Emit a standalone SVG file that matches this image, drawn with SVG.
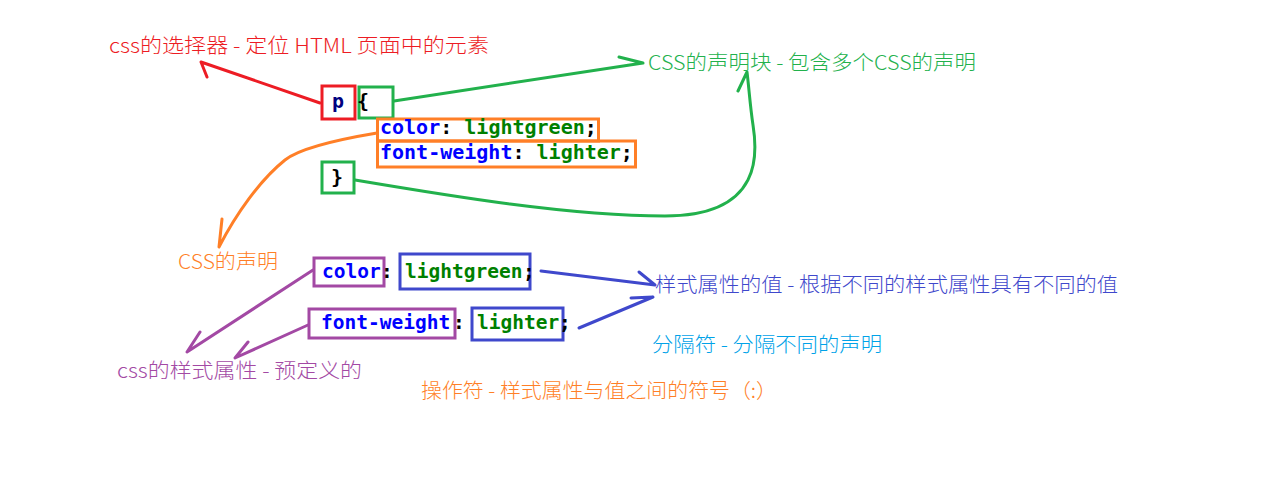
<svg xmlns="http://www.w3.org/2000/svg" width="1271" height="479" viewBox="0 0 1271 479">
<style>
.lbl{font-family:"Noto Sans CJK SC","Microsoft YaHei",sans-serif;font-size:20px;font-weight:300;}
.code{font-family:"DejaVu Sans Mono","Liberation Mono",monospace;font-size:19.5px;font-weight:bold;}
.top{font-size:20px;}
.box{fill:none;stroke-width:3;}
.ln{fill:none;stroke-width:3;stroke-linecap:round;stroke-linejoin:round;}
.prop{fill:#0000ff;}
.val{fill:#008000;}
.pun{fill:#000000;}
</style>
<rect width="1271" height="479" fill="#ffffff"/>

<g id="connectors">
  <g id="arrow-selector" stroke="#ed1c24"><path class="ln" d="M320,103 L201,62 L207,77"/></g>
  <g id="arrow-block-open" stroke="#22b14c"><path class="ln" d="M394,101 L643,63 L619,57"/></g>
  <g id="arrow-block-close" stroke="#22b14c"><path class="ln" d="M355,180 C450,196 570,216 665,216 C765,216 757,150 753,125 C750,105 749,88 747,72 L738,91"/></g>
  <g id="arrow-decl" stroke="#ff7f27"><path class="ln" d="M377,133 C335,140 300,148 285,160 C260,180 236,214 219,247 L222,219"/></g>
  <g id="arrow-prop1" stroke="#a349a4"><path class="ln" d="M313,270 L187,352 L200,332"/></g>
  <g id="arrow-prop2" stroke="#a349a4"><path class="ln" d="M308,325 L235,358 L248,342"/></g>
  <g id="arrow-val1" stroke="#3f48cc"><path class="ln" d="M541,271 L655,285 L639,272"/></g>
  <g id="arrow-val2" stroke="#3f48cc"><path class="ln" d="M579,328 L653,297 L631,298"/></g>
</g>

<g id="selector-p">
  <rect class="box" stroke="#ed1c24" x="322" y="86" width="33" height="33"/>
  <text class="code top" x="332" y="108" fill="#000080">p</text>
</g>
<g id="brace-open">
  <rect class="box" stroke="#22b14c" x="359" y="87" width="34" height="31"/>
  <text class="code top pun" x="357" y="108">{</text>
</g>
<g id="decl-1">
  <rect class="box" stroke="#ff7f27" x="377.5" y="119" width="221" height="22"/>
  <text class="code top" x="380" y="134"><tspan class="prop">color</tspan><tspan class="pun">: </tspan><tspan class="val">lightgreen</tspan><tspan class="pun">;</tspan></text>
</g>
<g id="decl-2">
  <rect class="box" stroke="#ff7f27" x="377.5" y="141" width="258" height="26"/>
  <text class="code top" x="380" y="159"><tspan class="prop">font-weight</tspan><tspan class="pun">: </tspan><tspan class="val">lighter</tspan><tspan class="pun">;</tspan></text>
</g>
<g id="brace-close">
  <rect class="box" stroke="#22b14c" x="322" y="162" width="32" height="31"/>
  <text class="code top pun" x="331" y="184">}</text>
</g>

<g id="prop-color">
  <rect class="box" stroke="#a349a4" x="314" y="258" width="70" height="28"/>
  <text class="code prop" x="322" y="278">color</text>
</g>
<text class="code pun" x="381" y="278">:</text>
<g id="val-lightgreen">
  <rect class="box" stroke="#3f48cc" x="400" y="254" width="130" height="35"/>
  <text class="code val" x="405" y="278">lightgreen</text>
</g>
<text class="code pun" x="523" y="278">;</text>
<g id="prop-fontweight">
  <rect class="box" stroke="#a349a4" x="309" y="309" width="146" height="29"/>
  <text class="code prop" x="321" y="329">font-weight</text>
</g>
<text class="code pun" x="453" y="329">:</text>
<g id="val-lighter">
  <rect class="box" stroke="#3f48cc" x="472" y="308" width="91" height="32"/>
  <text class="code val" x="477" y="329">lighter</text>
</g>
<text class="code pun" x="559" y="329">;</text>

<g id="label-selector"><text class="lbl" fill="#ed1c24" x="109" y="53" textLength="380" lengthAdjust="spacingAndGlyphs">css的选择器 - 定位 HTML 页面中的元素</text></g>
<g id="label-block"><text class="lbl" fill="#22b14c" x="648" y="70" textLength="328" lengthAdjust="spacingAndGlyphs">CSS的声明块 - 包含多个CSS的声明</text></g>
<g id="label-decl"><text class="lbl" fill="#ff7f27" x="178" y="269" textLength="100" lengthAdjust="spacingAndGlyphs">CSS的声明</text></g>
<g id="label-value"><text class="lbl" fill="#3f48cc" x="655" y="292" textLength="463" lengthAdjust="spacingAndGlyphs">样式属性的值 - 根据不同的样式属性具有不同的值</text></g>
<g id="label-separator"><text class="lbl" fill="#00a2e8" x="652" y="352" textLength="230" lengthAdjust="spacingAndGlyphs">分隔符 - 分隔不同的声明</text></g>
<g id="label-property"><text class="lbl" fill="#a349a4" x="117" y="378" textLength="245" lengthAdjust="spacingAndGlyphs">css的样式属性 - 预定义的</text></g>
<g id="label-operator"><text class="lbl" fill="#ff7f27" x="421" y="398" textLength="356" lengthAdjust="spacingAndGlyphs">操作符 - 样式属性与值之间的符号（:）</text></g>
</svg>
